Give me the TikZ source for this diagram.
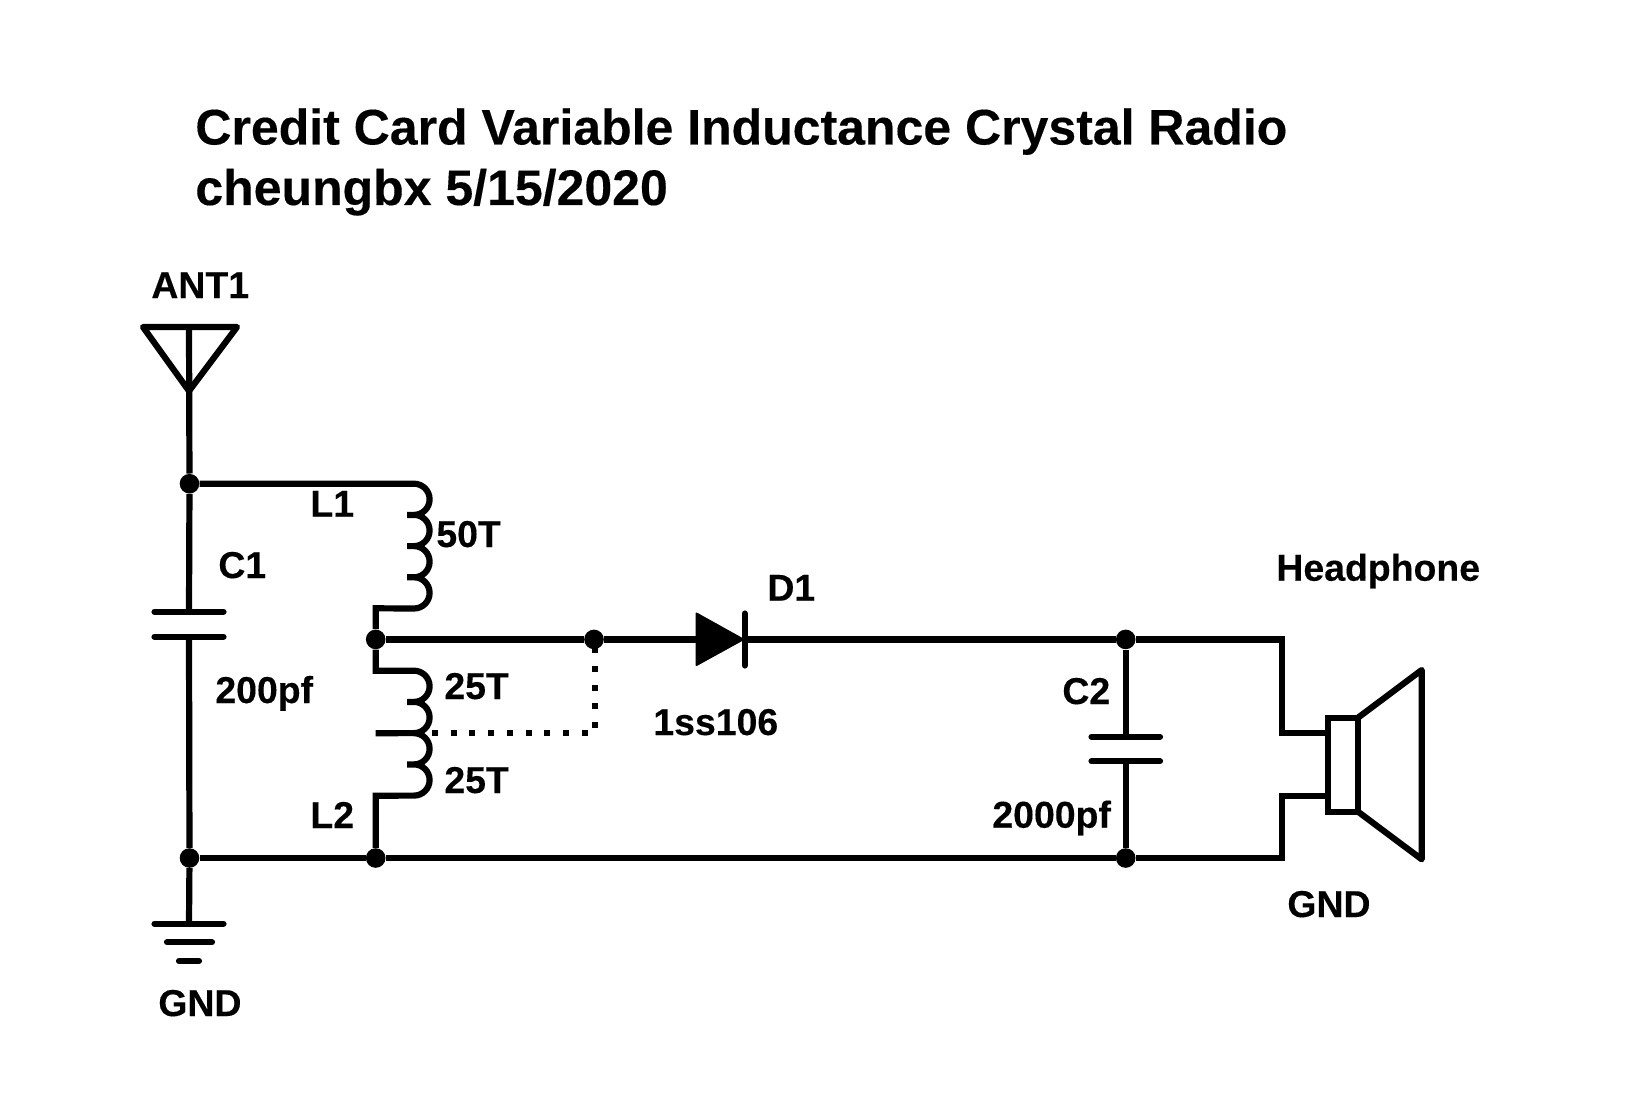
\documentclass[tikz,border=0pt]{standalone}
\usepackage{fontspec}
\setmainfont{Liberation Sans}[BoldFont={Liberation Sans Bold},BoldFeatures={FakeBold=0.25}]
\tikzset{
  wire/.style={line width=3.1pt,line join=miter,line cap=butt},
  plate/.style={line width=3.1pt,line cap=round},
  junction/.style={circle,fill=black,inner sep=0pt,minimum size=9.8pt},
  lbl/.style={anchor=base west,inner sep=0pt,font=\fontsize{18.7}{18.7}\selectfont\bfseries},
  ttl/.style={anchor=base west,inner sep=0pt,font=\fontsize{25}{25}\selectfont\bfseries},
  tapdots/.style={line width=3pt,line cap=butt,dash pattern=on 3pt off 6.35pt,dash phase=0pt}
}
\newcommand{\coilturn}{arc[start angle=90,end angle=-90,radius=7.8pt]}
\begin{document}
\begin{tikzpicture}[x=0.5pt,y=-0.5pt]
\useasboundingbox (0,0) rectangle (1626,1118);
% texts
\node[ttl] (title1) at (195,144.5) {Credit Card Variable Inductance Crystal Radio};
\node[ttl] (title2) at (195,205) {cheungbx 5/15/2020};
\node[lbl] (tant) at (151,298) {ANT1};
\node[lbl] (tl1) at (310,516.7) {L1};
\node[lbl] (t50) at (436,547) {50T};
\node[lbl] (tc1) at (218,578) {C1};
\node[lbl] (t200) at (215,703) {200pf};
\node[lbl] (t25a) at (444,699) {25T};
\node[lbl] (t25b) at (444,793) {25T};
\node[lbl] (tl2) at (310,828) {L2};
\node[lbl] (tgnd) at (158,1016) {GND};
\node[lbl] (thp) at (1276,580.7) {Headphone};
\node[lbl] (tgnd2) at (1287,917) {GND};
\node[lbl] (td1) at (767,600.7) {D1};
\node[lbl] (t1ss) at (653,735) {1ss106};
\node[lbl] (tc2) at (1062,704) {C2};
\node[lbl] (t2000) at (992,827.7) {2000pf};
% junctions
\node[junction] (ja) at (189.5,483.7) {};
\node[junction] (jb) at (375.7,639.4) {};
\node[junction] (jc) at (594,639.4) {};
\node[junction] (jd) at (1125.7,639.4) {};
\node[junction] (je) at (189.5,858) {};
\node[junction] (jf) at (375.7,858) {};
\node[junction] (jg) at (1125.7,858) {};
% named points
\coordinate (anttip) at (189,391);
\coordinate (antl) at (143,327);
\coordinate (antr) at (237,327);
\coordinate (antt) at (189,327);
\coordinate (c1a) at (189,611.7);
\coordinate (c1b) at (189,636.7);
\coordinate (gnd1) at (189,923.7);
\coordinate (l1a) at (414,483.7);
\coordinate (l1b) at (375.7,608.3);
\coordinate (l2a) at (375.7,670.7);
\coordinate (l2b) at (414,670.7);
\coordinate (l2c) at (375.7,795.7);
\coordinate (tap) at (375.7,733.2);
\coordinate (tapc) at (414,733.2);
\coordinate (dl) at (696,639.4);
\coordinate (dr) at (744.7,639.4);
\coordinate (c2a) at (1125.7,736.7);
\coordinate (c2b) at (1125.7,761.3);
\coordinate (sp1) at (1281.7,639.4);
\coordinate (sp2) at (1281.7,733.3);
\coordinate (sp3) at (1328,733.3);
\coordinate (sp4) at (1281.7,858);
\coordinate (sp5) at (1281.7,795.7);
\coordinate (sp6) at (1328,795.7);
\coordinate (dotend) at (595,639.4);
\coordinate (dotcorner) at (595,733.2);
\coordinate (dotstart) at (432,733.2);
% antenna
\draw[wire,line join=round] (antl) -- (antr) -- (anttip) -- cycle;
\draw[wire] (antt) -- (ja);
% C1 and ground
\draw[wire] (ja) -- (c1a);
\draw[plate] (154.5,611.7) -- (223.5,611.7);
\draw[plate] (154.5,636.7) -- (223.5,636.7);
\draw[wire] (c1b) -- (je);
\draw[wire] (je) -- (gnd1);
\draw[plate] (154.5,923.7) -- (223.5,923.7);
\draw[plate] (167,942.3) -- (212,942.3);
\draw[plate] (179,961) -- (199,961);
% L1
\draw[wire] (ja) -- (l1a) \coilturn -- ++(-7,0) ++(7,0) \coilturn -- ++(-7,0) ++(7,0) \coilturn -- ++(-7,0) ++(7,0) \coilturn -- (l1b) -- (jb);
% L2
\draw[wire] (jb) -- (l2a) -- (l2b) \coilturn -- ++(-7,0) ++(7,0) \coilturn -- (tap) (tapc) \coilturn -- ++(-7,0) ++(7,0) \coilturn -- (l2c) -- (jf);
% tap
\draw[tapdots] (dotstart) -- (dotcorner) -- (dotend);
% main wires
\draw[wire] (jb) -- (jc);
\draw[wire] (jc) -- (dl);
\draw[wire] (dr) -- (jd);
\draw[wire] (je) -- (jf);
\draw[wire] (jf) -- (jg);
% diode
\fill[line join=round,draw=black,line width=1pt] (696.5,613.5) -- (743,639.4) -- (696.5,665) -- cycle;
\draw[plate] (744.7,613.5) -- (744.7,665.5);
% C2
\draw[wire] (jd) -- (c2a);
\draw[plate] (1091.5,736.7) -- (1160,736.7);
\draw[plate] (1091.5,761.3) -- (1160,761.3);
\draw[wire] (c2b) -- (jg);
% speaker
\draw[wire] (jd) -- (sp1) -- (sp2) -- (sp3);
\draw[wire] (jg) -- (sp4) -- (sp5) -- (sp6);
\draw[wire] (1328,717.7) rectangle (1358,811.7);
\draw[wire,line join=round] (1358,717.7) -- (1421.7,670) -- (1421.7,859.3) -- (1358,811.7);
\end{tikzpicture}
\end{document}
